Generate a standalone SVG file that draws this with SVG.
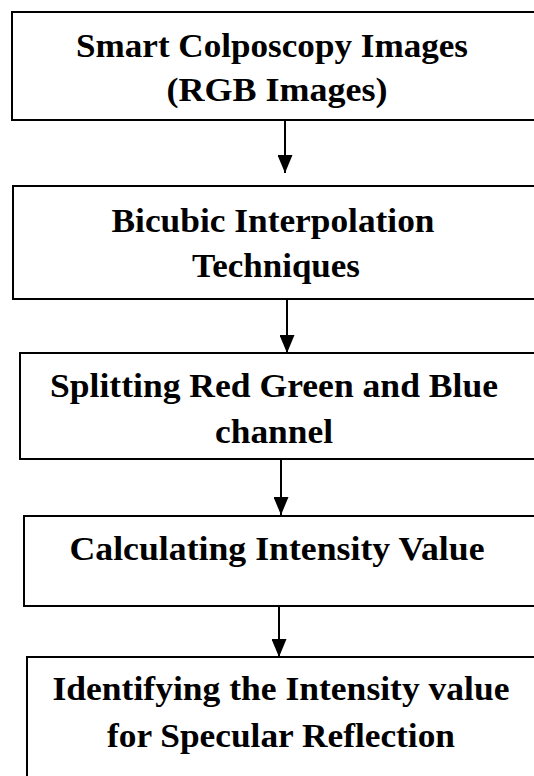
<svg xmlns="http://www.w3.org/2000/svg" width="534" height="776" viewBox="0 0 534 776">
<style>
.box{fill:#fff;stroke:#000;stroke-width:2}
.t{font-family:'Liberation Serif',serif;font-weight:700;font-size:34px;fill:#000;text-anchor:middle}
.c{stroke:#000;stroke-width:2;fill:none}
</style>
<defs>
<marker id="ah" viewBox="0 0 18 15" refX="18" refY="7.5" markerWidth="18" markerHeight="15" markerUnits="userSpaceOnUse" orient="auto">
<path d="M0,0 L18,7.5 L0,15 Z" fill="#000"/>
</marker>
</defs>
<rect width="534" height="776" fill="#fff"/>
<g id="n1">
<rect class="box" x="12" y="12" width="540" height="108"/>
<text class="t" x="272" y="57" textLength="392" lengthAdjust="spacingAndGlyphs">Smart Colposcopy Images</text>
<text class="t" x="277" y="101" textLength="221" lengthAdjust="spacingAndGlyphs">(RGB Images)</text>
</g>
<g id="n2">
<rect class="box" x="13" y="186" width="540" height="113"/>
<text class="t" x="273" y="232" textLength="323" lengthAdjust="spacingAndGlyphs">Bicubic Interpolation</text>
<text class="t" x="276" y="277" textLength="168" lengthAdjust="spacingAndGlyphs">Techniques</text>
</g>
<g id="n3">
<rect class="box" x="20" y="353" width="540" height="106"/>
<text class="t" x="274" y="397" textLength="448" lengthAdjust="spacingAndGlyphs">Splitting Red Green and Blue</text>
<text class="t" x="274" y="443" textLength="118" lengthAdjust="spacingAndGlyphs">channel</text>
</g>
<g id="n4">
<rect class="box" x="24" y="516" width="540" height="90"/>
<text class="t" x="277" y="560" textLength="415" lengthAdjust="spacingAndGlyphs">Calculating Intensity Value</text>
</g>
<g id="n5">
<rect class="box" x="27" y="657" width="540" height="140"/>
<text class="t" x="281" y="700" textLength="457" lengthAdjust="spacingAndGlyphs">Identifying the Intensity value</text>
<text class="t" x="281" y="747" textLength="348" lengthAdjust="spacingAndGlyphs">for Specular Reflection</text>
</g>
<g id="connectors">
<line class="c" x1="285" y1="120" x2="285" y2="173" marker-end="url(#ah)"/>
<line class="c" x1="287" y1="299" x2="287" y2="353" marker-end="url(#ah)"/>
<line class="c" x1="281" y1="459" x2="281" y2="515" marker-end="url(#ah)"/>
<line class="c" x1="279" y1="606" x2="279" y2="657" marker-end="url(#ah)"/>
</g>
</svg>
